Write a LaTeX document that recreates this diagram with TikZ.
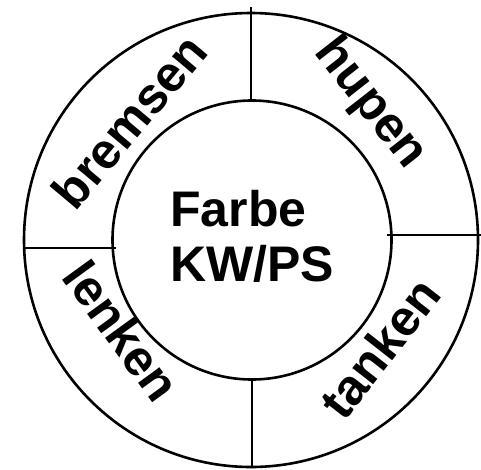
\documentclass[tikz,border=0pt]{standalone}
\usepackage{fontspec}
\setmainfont{Liberation Sans}
\usepackage{tikz}

\tikzset{
  ring/.style={circle, draw=black, line width=2.6pt, inner sep=0pt},
  teiler/.style={draw=black, line width=2.6pt},
  wort/.style={font=\bfseries\fontsize{50}{55}\selectfont, inner sep=0pt}
}

\begin{document}
\begin{tikzpicture}[x=1pt, y=-1pt]
\useasboundingbox (0,0) rectangle (481,469);

% zwei Kreise
\node[ring, minimum size=454pt] (aussen) at (251,240) {};
\node[ring, minimum size=279pt] (innen) at (252,240) {};

% Trennlinien zwischen den Feldern
\coordinate (oben a) at (251,7);
\coordinate (oben i) at (251,101);
\coordinate (unten i) at (252,378);
\coordinate (unten a) at (252,467);
\coordinate (links a) at (24,248);
\coordinate (links i) at (116,248);
\coordinate (rechts i) at (387,235);
\coordinate (rechts a) at (481,235);
\draw[teiler] (oben a) -- (oben i);
\draw[teiler] (unten i) -- (unten a);
\draw[teiler] (links a) -- (links i);
\draw[teiler] (rechts i) -- (rechts a);

% Mitte
\node[wort, anchor=west, align=left] (mitte) at (170,236) {Farbe\\KW/PS};

% Felder im Ring
\node[wort, rotate=50] (bremsen) at (129,121) {bremsen};
\node[wort, rotate=-52] (hupen) at (370,104) {hupen};
\node[wort, rotate=-54] (lenken) at (122,331) {lenken};
\node[wort, rotate=52] (tanken) at (380,348) {tanken};
\end{tikzpicture}
\end{document}
